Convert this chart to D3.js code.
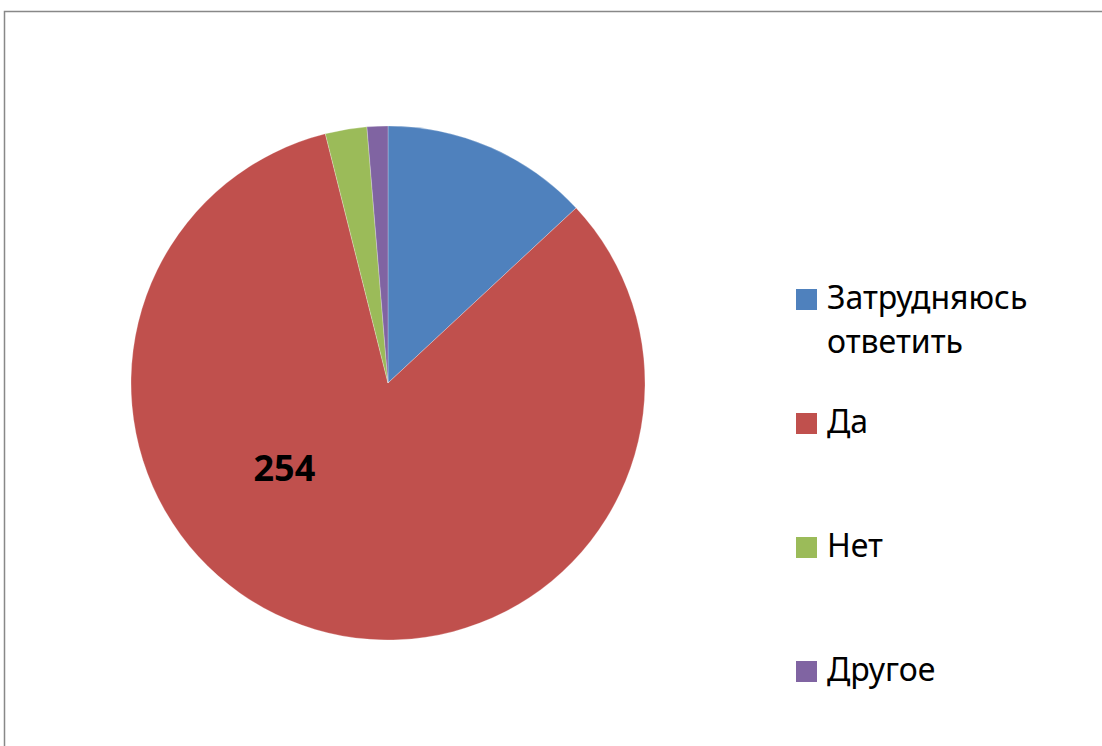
<!DOCTYPE html>
<html><head><meta charset="utf-8">
<script src="https://cdn.jsdelivr.net/npm/d3@7"></script>
<style>body{margin:0;background:#fff}svg{display:block}</style>
</head><body>
<script>
const categories = ["Затрудняюсь ответить", "Да", "Нет", "Другое"];
const values = [40, 254, 8, 4];
const colors = ["#4f81bd", "#c0504d", "#9bbb59", "#8064a2"];
const labelsShown = [false, true, false, false];

const W = 1102, H = 746;
const svg = d3.select("body").append("svg").attr("width", W).attr("height", H);
svg.append("rect").attr("width", W).attr("height", H).attr("fill", "#fff");
svg.append("path").attr("d", `M4.5,${H+5} V11.5 H${W+5}`).attr("fill", "none")
  .attr("stroke", "#888").attr("stroke-width", 1.5);

const cx = 388, cy = 383, r = 257;
const pie = d3.pie().sort(null).value(d => d)(values);
const arc = d3.arc().innerRadius(0).outerRadius(r);
const g = svg.append("g").attr("transform", `translate(${cx},${cy})`);
g.selectAll("path").data(pie).join("path").attr("d", arc)
  .attr("fill", (d, i) => colors[i]).attr("stroke", "#fff").attr("stroke-width", 0.5).attr("stroke-opacity", 0.5);

const font = "'Noto Sans', 'Open Sans', sans-serif";
pie.forEach((d, i) => {
  if (!labelsShown[i]) return;
  const a = d.startAngle + (d.endAngle - d.startAngle) * 0.615;
  const rr = r * 0.52;
  g.append("text").attr("x", Math.sin(a) * rr).attr("y", -Math.cos(a) * rr).attr("text-anchor", "middle")
    .attr("dominant-baseline", "central").attr("font-family", font)
    .attr("font-weight", "bold").attr("font-size", 36).attr("fill", "#000").text(values[i]);
});

const legendY = d3.scalePoint().domain(categories).range([299, 671]);
const lg = svg.append("g");
categories.forEach((c, i) => {
  const y = legendY(c);
  lg.append("rect").attr("x", 796).attr("y", y - 10).attr("width", 21).attr("height", 21).attr("fill", colors[i]);
  const words = c.split(" ");
  const t = lg.append("text").attr("x", 827).attr("y", y + 10).attr("font-family", font)
    .attr("font-size", 32).attr("fill", "#000");
  words.forEach((w, j) => t.append("tspan").attr("x", 827).attr("dy", j ? 44 : 0).text(w));
});
</script>
</body></html>
